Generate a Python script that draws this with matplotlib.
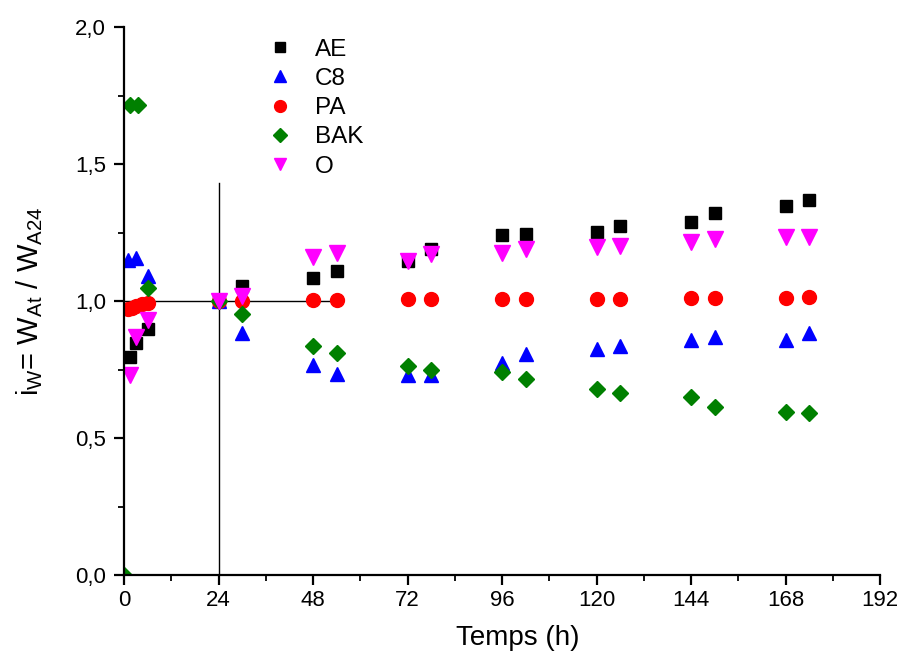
import matplotlib
matplotlib.use('Agg')

import numpy as np
import matplotlib.pyplot as plt
from matplotlib.ticker import MultipleLocator, FuncFormatter

# Datos
t_ae = [1.5, 3, 6, 24, 30, 48, 54, 72, 78, 96, 102, 120, 126, 144, 150, 168, 174]
ae = [0.796, 0.847, 0.898, 1.0, 1.055, 1.084, 1.109, 1.147, 1.19, 1.241, 1.246,
      1.252, 1.275, 1.288, 1.322, 1.347, 1.369]

t_c8 = [1, 3, 6, 24, 30, 48, 54, 72, 78, 96, 102, 120, 126, 144, 150, 168, 174]
c8 = [1.15, 1.157, 1.09, 1.0, 0.883, 0.766, 0.733, 0.73, 0.73, 0.773, 0.806,
      0.825, 0.837, 0.858, 0.868, 0.858, 0.884]

t_pa = [1, 2, 3, 4.5, 6, 24, 30, 48, 54, 72, 78, 96, 102, 120, 126, 144, 150, 168, 174]
pa = [0.972, 0.976, 0.982, 0.988, 0.994, 1.0, 1.0, 1.004, 1.005, 1.006, 1.007,
      1.007, 1.007, 1.008, 1.009, 1.011, 1.011, 1.012, 1.013]

t_bak = [0, 1.5, 3.5, 6, 24, 30, 48, 54, 72, 78, 96, 102, 120, 126, 144, 150, 168, 174]
bak = [0.0, 1.715, 1.715, 1.047, 1.0, 0.952, 0.836, 0.81, 0.764, 0.748, 0.742,
       0.715, 0.679, 0.666, 0.651, 0.614, 0.596, 0.591]

t_o = [1.5, 3, 6, 24, 30, 48, 54, 72, 78, 96, 102, 120, 126, 144, 150, 168, 174]
o = [0.73, 0.87, 0.93, 1.0, 1.02, 1.16, 1.175, 1.147, 1.171, 1.175, 1.19,
     1.197, 1.202, 1.217, 1.226, 1.235, 1.235]

x_ticks = [0, 24, 48, 72, 96, 120, 144, 168, 192]

plt.rcParams['font.family'] = ['Liberation Sans', 'DejaVu Sans']
plt.rcParams['mathtext.fontset'] = 'custom'
plt.rcParams['mathtext.rm'] = 'Liberation Sans'
plt.rcParams['mathtext.it'] = 'Liberation Sans'

fig = plt.figure(figsize=(8.99, 6.52), dpi=100)
ax = fig.add_axes([124 / 899, 1 - 575 / 652, (880 - 124) / 899, (575 - 27) / 652])

# lignes de référence
ax.plot([24, 24], [0, 1.43], color='black', lw=1.0, zorder=1)
ax.plot([0, 52.5], [1.0, 1.0], color='black', lw=1.0, zorder=1)

ax.plot(t_ae, ae, 's', color='black', ms=9.3, label='AE')
ax.plot(t_c8, c8, '^', color='blue', ms=10.5, label='C8')
ax.plot(t_pa, pa, 'o', color='red', ms=10, label='PA')
ax.plot(t_bak, bak, 'D', color='green', ms=8, label='BAK')
ax.plot(t_o, o, 'v', color='magenta', ms=11, label='O')

ax.set_xlim(0, 192)
ax.set_ylim(0, 2.0)
ax.set_xticks(x_ticks)
ax.xaxis.set_minor_locator(MultipleLocator(12))
ax.yaxis.set_major_locator(MultipleLocator(0.5))
ax.yaxis.set_minor_locator(MultipleLocator(0.25))
ax.yaxis.set_major_formatter(FuncFormatter(lambda v, p: f"{v:.1f}".replace('.', ',')))

for s in ['top', 'right']:
    ax.spines[s].set_visible(False)
for s in ['left', 'bottom']:
    ax.spines[s].set_linewidth(1.6)

ax.tick_params(which='major', direction='out', length=7, width=1.6, labelsize=16)
ax.tick_params(axis='y', which='major', pad=6)
ax.tick_params(which='minor', direction='out', length=4, width=1.3)

ax.set_xlabel('Temps (h)', fontsize=20)
ax.xaxis.set_label_coords(0.521, -0.092)
ax.set_ylabel(r'i$_\mathrm{W}$= W$_\mathrm{At}$ / W$_\mathrm{A24}$', fontsize=21)
ax.yaxis.set_label_coords(-0.105, 0.5)

ax.legend(loc='upper left', bbox_to_anchor=(0.19, 0.979), frameon=False, fontsize=17.5,
          handlelength=1.0, handletextpad=0.95, labelspacing=0.3, numpoints=1,
          markerscale=0.85, borderaxespad=0, borderpad=0)

fig.savefig('out.png', dpi=100)
plt.close()
